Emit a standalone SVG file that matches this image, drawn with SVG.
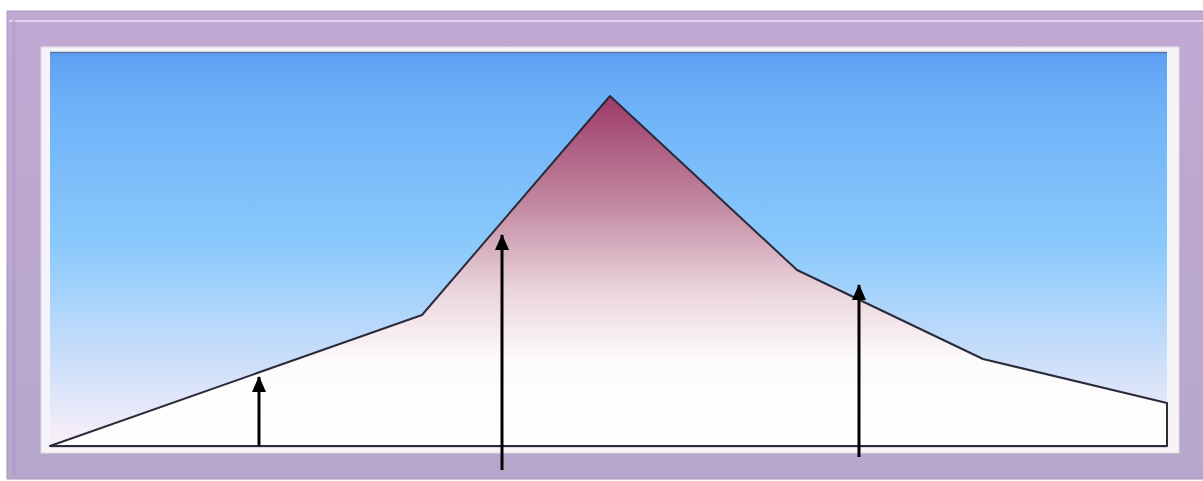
<svg xmlns="http://www.w3.org/2000/svg" width="1203" height="481" viewBox="0 0 1203 481">
<defs>
<linearGradient id="sky" x1="0" y1="0" x2="0" y2="1">
<stop offset="0" stop-color="#5c9ff2"/>
<stop offset="0.12" stop-color="#6cb0f8"/>
<stop offset="0.5" stop-color="#8ccafc"/>
<stop offset="0.8" stop-color="#cfe0fa"/>
<stop offset="1" stop-color="#fbf0f8"/>
</linearGradient>
<linearGradient id="mtn" gradientUnits="userSpaceOnUse" x1="0" y1="96" x2="0" y2="446">
<stop offset="0" stop-color="#9e3a6a"/>
<stop offset="0.3" stop-color="#c0869e"/>
<stop offset="0.55" stop-color="#ead3dc"/>
<stop offset="0.75" stop-color="#fdfafb"/>
<stop offset="1" stop-color="#ffffff"/>
</linearGradient>
<linearGradient id="frame" x1="0" y1="0" x2="0" y2="1">
<stop offset="0" stop-color="#c1a9d4"/>
<stop offset="1" stop-color="#b6a6cc"/>
</linearGradient>
<marker id="ah" markerWidth="16" markerHeight="14" refX="15" refY="7" orient="auto" markerUnits="userSpaceOnUse" viewBox="0 0 16 14">
<path d="M0,0 L16,7 L0,14 Z" fill="#000"/>
</marker>
<style>
.arr{stroke:#000;stroke-width:3;fill:none}
</style>
</defs>
<rect width="1203" height="481" fill="#ffffff"/>
<g id="frame">
<rect x="7" y="11" width="1200" height="468" fill="url(#frame)" stroke="#a898bc" stroke-width="1"/>
<line x1="9" y1="21" x2="1203" y2="21" stroke="#e2d2ee" stroke-width="2"/>
<line x1="14" y1="20" x2="14" y2="476" stroke="#a996c0" stroke-width="3" opacity="0.5"/>
<rect x="41" y="47" width="1138" height="406" fill="#f6f4f8" stroke="#ddd" stroke-width="1"/>
<rect x="50" y="52" width="1117" height="394" fill="url(#sky)"/>
<line x1="50" y1="52.5" x2="1167" y2="52.5" stroke="#5a78a8" stroke-width="1.5"/>
<line x1="50" y1="446.5" x2="1167" y2="446.5" stroke="#777" stroke-width="1.5"/>
</g>
<g id="mountain">
<path d="M50,446 L422,315 L610,96 L797,270 L983,359 L1167,403 L1167,446 Z" fill="url(#mtn)" stroke="#2a2a38" stroke-width="2" stroke-linejoin="round"/>
</g>
<g id="connectors">
<line class="arr" x1="259" y1="446" x2="259" y2="377" marker-end="url(#ah)"/>
<line class="arr" x1="502" y1="470" x2="502" y2="235" marker-end="url(#ah)"/>
<line class="arr" x1="859" y1="457" x2="859" y2="285" marker-end="url(#ah)"/>
</g>
</svg>
